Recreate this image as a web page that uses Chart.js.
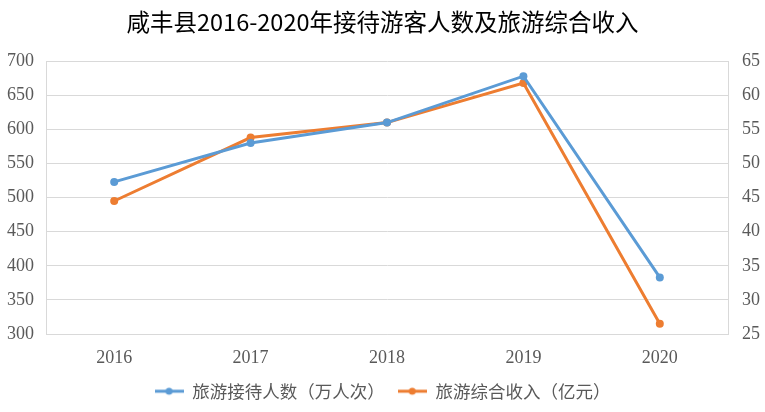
<!DOCTYPE html>
<html><head><meta charset="utf-8">
<script src="https://cdn.jsdelivr.net/npm/chart.js@4"></script>
<style>html,body{margin:0;padding:0;background:#fff}#wrap{width:765px;height:412px}</style>
</head><body><div id="wrap"><canvas id="c" width="765" height="412"></canvas></div>
<script>
const title = '咸丰县2016-2020年接待游客人数及旅游综合收入';
const categories = ['2016','2017','2018','2019','2020'];
const visitorsLabel = '旅游接待人数（万人次）';
const visitors = [523, 580, 610, 678, 383];
const revenueLabel = '旅游综合收入（亿元）';
const revenue = [44.5, 53.8, 56.0, 61.8, 26.5];
const leftTicks = {min:300, max:700, step:50};
const rightTicks = {min:25, max:65, step:5};

const BLUE = '#5b9bd5', ORANGE = '#ed7d31';
function legendIcon(color){
  const c = document.createElement('canvas');
  c.width = 29; c.height = 10;
  const x = c.getContext('2d');
  x.strokeStyle = color; x.lineWidth = 3;
  x.beginPath(); x.moveTo(0,5); x.lineTo(29,5); x.stroke();
  x.fillStyle = color; x.beginPath(); x.arc(14.5,5,3.5,0,Math.PI*2); x.fill();
  return c;
}
const tickFont = {family:'"Liberation Serif", "DejaVu Serif", serif', size:18};
new Chart(document.getElementById('c'), {
  type:'line',
  data:{labels:categories, datasets:[
    {label:visitorsLabel, data:visitors, borderColor:BLUE, backgroundColor:BLUE, borderWidth:3, pointRadius:4, pointBorderWidth:0, pointHoverRadius:4, yAxisID:'y', tension:0},
    {label:revenueLabel, data:revenue, borderColor:ORANGE, backgroundColor:ORANGE, borderWidth:3, pointRadius:4, pointBorderWidth:0, pointHoverRadius:4, yAxisID:'y1', tension:0}
  ]},
  options:{
    responsive:false, animation:false, devicePixelRatio:1,
    layout:{padding:{top:4,bottom:2,left:0,right:0}},
    plugins:{
      title:{display:true, text:title, color:'#000', font:{family:'"Noto Sans CJK SC", sans-serif', size:23.5, weight:'normal'}, padding:{top:4,bottom:25}},
      legend:{position:'bottom', labels:{usePointStyle:true, pointStyleWidth:29, color:'#595959', font:{family:'"Noto Sans CJK SC", sans-serif', size:17.5}, padding:13,
        generateLabels(chart){
          return chart.data.datasets.map((d,i)=>({text:d.label, fillStyle:d.borderColor, strokeStyle:d.borderColor, fontColor:'#595959', pointStyle:legendIcon(d.borderColor), lineWidth:0, datasetIndex:i, hidden:false}));
        }}},
      tooltip:{enabled:false}
    },
    scales:{
      x:{offset:true, grid:{display:false, drawTicks:false}, border:{display:true,color:'#d9d9d9'},
        ticks:{color:'#595959', font:tickFont, padding:13}, afterFit(s){s.height=35.5;}},
      y:{position:'left', min:leftTicks.min, max:leftTicks.max,
        ticks:{stepSize:leftTicks.step, color:'#595959', font:tickFont, padding:12},
        grid:{color:'#d9d9d9', drawTicks:false}, border:{display:true,color:'#d9d9d9'},
        afterFit(s){s.width=46;}},
      y1:{position:'right', min:rightTicks.min, max:rightTicks.max,
        ticks:{stepSize:rightTicks.step, color:'#595959', font:tickFont, padding:14},
        grid:{display:false, drawTicks:false}, border:{display:true,color:'#d9d9d9'},
        afterFit(s){s.width=37;}}
    }
  }
});
</script></body></html>
